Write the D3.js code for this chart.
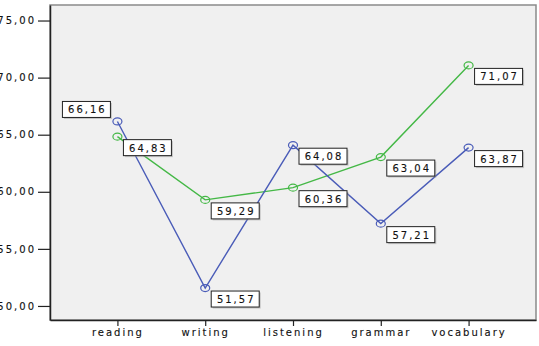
<!DOCTYPE html>
<html><head><meta charset="utf-8">
<script src="https://cdn.jsdelivr.net/npm/d3@7"></script>
<style>
body{margin:0;background:#fff;}
svg{display:block;font-family:"DejaVu Sans",Verdana,sans-serif;}
</style></head>
<body><svg id="c" width="539" height="346"></svg>
<script>
const categories = ["reading","writing","listening","grammar","vocabulary"];
const seriesBlue = [66.16, 51.57, 64.08, 57.21, 63.87];
const seriesGreen = [64.83, 59.29, 60.36, 63.04, 71.07];
const yTicks = [50, 55, 60, 65, 70, 75];

const W = 539, H = 346;
const m = {l: 50, r: 3, t: 5, b: 26};
const svg = d3.select("#c");
const x = d3.scalePoint().domain(categories).range([m.l, W - m.r]).padding(0.768);
const y = d3.scaleLinear().domain([48.77, 76.36]).range([H - m.b, m.t]);

// plot background and frame
svg.append("rect").attr("x", m.l).attr("y", m.t).attr("width", W - m.r - m.l).attr("height", H - m.b - m.t)
  .attr("fill", "#f0f0f0").attr("stroke", "#8a8a8a").attr("stroke-width", 1.5);

const fmt = v => d3.format(".2f")(v).replace(".", ",");
function styleText(sel) {
  sel.attr("font-size", 10).attr("letter-spacing", "2px").attr("fill", "#111")
    .attr("stroke", "#111").attr("stroke-width", 0.12).attr("font-family", "DejaVu Sans");
}

// y axis
const ya = svg.append("g").attr("transform", `translate(${m.l},0)`)
  .call(d3.axisLeft(y).tickValues(yTicks).tickSize(12).tickSizeOuter(0).tickPadding(2).tickFormat(fmt));
ya.select(".domain").attr("stroke", "#222").attr("stroke-width", 1.5);
ya.selectAll(".tick line").attr("stroke", "#222").attr("stroke-width", 1.2);
styleText(ya.selectAll("text"));

// x axis
const xa = svg.append("g").attr("transform", `translate(0,${H - m.b})`)
  .call(d3.axisBottom(x).tickSize(6).tickSizeOuter(0).tickPadding(3));
xa.select(".domain").attr("stroke", "#222").attr("stroke-width", 1.5);
xa.selectAll(".tick line").attr("stroke", "#222").attr("stroke-width", 1.2);
styleText(xa.selectAll("text"));

const series = [
  {vals: seriesGreen, color: "#44b846"},
  {vals: seriesBlue, color: "#4a5cb8"}
];
const line = d3.line().x((d, i) => x(categories[i])).y(d => y(d));

series.forEach(s => {
  svg.append("path").attr("d", line(s.vals)).attr("fill", "none")
    .attr("stroke", s.color).attr("stroke-width", 1.4);
  svg.selectAll(null).data(s.vals).enter().append("ellipse")
    .attr("cx", (d, i) => x(categories[i])).attr("cy", d => y(d))
    .attr("rx", 4.5).attr("ry", 3.5)
    .attr("fill", "none").attr("stroke", s.color).attr("stroke-width", 1.2);
});

// value labels
const bw = 48, bh = 16;
function label(v, i, leftAbove) {
  const px = x(categories[i]), py = y(v);
  const bx = leftAbove ? px - 7 - bw : px + 6;
  const by = leftAbove ? py - 4 - bh : py + 3;
  const g = svg.append("g");
  g.append("rect").attr("x", bx + 1.5).attr("y", by + 1.5).attr("width", bw).attr("height", bh)
    .attr("fill", "#999").attr("opacity", 0.5);
  g.append("rect").attr("x", bx).attr("y", by).attr("width", bw).attr("height", bh)
    .attr("fill", "#fff").attr("stroke", "#222").attr("stroke-width", 1);
  const t = g.append("text").attr("x", bx + bw / 2 + 1).attr("y", by + bh / 2 + 4)
    .attr("text-anchor", "middle").text(fmt(v));
  styleText(t);
}
seriesBlue.forEach((v, i) => label(v, i, i === 0 && v > seriesGreen[i]));
seriesGreen.forEach((v, i) => label(v, i, false));
</script></body></html>
